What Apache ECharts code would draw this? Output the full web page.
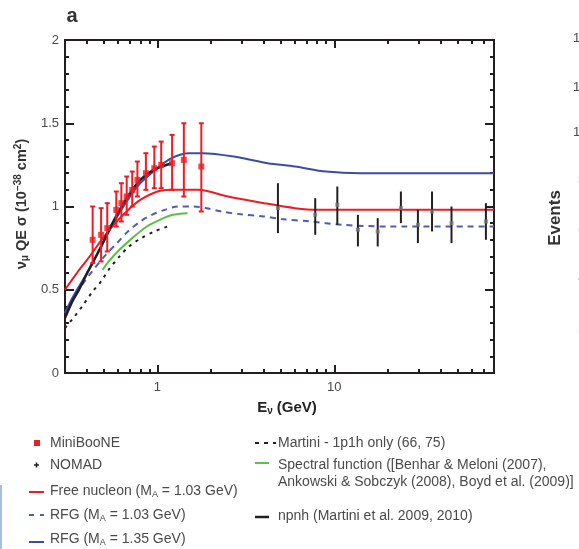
<!DOCTYPE html>
<html><head><meta charset="utf-8">
<script src="https://cdn.jsdelivr.net/npm/echarts@6/dist/echarts.min.js"></script>
<style>html,body{margin:0;padding:0;background:#fff}#c{width:579px;height:549px}</style>
</head><body><div id="c"></div>
<script>
// ---------- data ----------
const xMajorTicks = [1, 10];
const xMinorTicks = [0.4,0.5,0.6,0.7,0.8,0.9,2,3,4,5,6,7,8,9,20,30,40,50,60,70];
const yTickValues = [0, 0.5, 1, 1.5, 2];

// Free nucleon (MA = 1.03 GeV)
const freeE = [0.3,0.35,0.4,0.5,0.6,0.7,0.8,1.0,1.2,1.7,2.5,4,6,8,80];
const freeS = [0.5,0.6,0.68,0.82,0.92,0.99,1.04,1.09,1.1,1.1,1.06,1.02,0.99,0.98,0.98];
// RFG (MA = 1.35 GeV)
const rfg135E = [0.3,0.33,0.36,0.4,0.47,0.55,0.67,0.8,1.0,1.2,1.5,1.8,2.7,4.2,6,9,14,80];
const rfg135S = [0.36,0.45,0.52,0.6,0.74,0.88,1.03,1.14,1.23,1.29,1.32,1.32,1.3,1.26,1.24,1.21,1.2,1.2];
// RFG (MA = 1.03 GeV)
const rfg103E = [0.3,0.34,0.37,0.42,0.51,0.59,0.68,0.8,0.93,1.1,1.3,1.6,1.9,2.3,2.9,4,5,7.3,11,20,80];
const rfg103S = [0.36,0.46,0.52,0.6,0.71,0.78,0.85,0.91,0.95,0.98,1.0,1.0,0.99,0.97,0.955,0.94,0.925,0.91,0.89,0.88,0.88];
// Spectral function
const sfE = [0.49,0.53,0.61,0.72,0.87,1.03,1.22,1.48];
const sfS = [0.62,0.67,0.74,0.81,0.88,0.92,0.95,0.96];
// Martini 1p1h only
const m1E = [0.3,0.34,0.375,0.43,0.48,0.53,0.61,0.69,0.81,0.96,1.14];
const m1S = [0.27,0.34,0.40,0.49,0.55,0.62,0.70,0.76,0.81,0.85,0.88];
// npnh (Martini)
const npE = [0.3,0.33,0.36,0.4,0.47,0.55,0.67,0.8,0.95,1.2];
const npS = [0.33,0.43,0.5,0.6,0.74,0.89,1.05,1.16,1.22,1.26];

// MiniBooNE
const mbE  = [0.43,0.48,0.52,0.585,0.625,0.67,0.72,0.77,0.86,0.96,1.05,1.21,1.41,1.77];
const mbS  = [0.80,0.83,0.87,0.98,1.02,1.06,1.10,1.16,1.20,1.23,1.25,1.26,1.28,1.24];
const mbHi = [1.00,0.99,1.02,1.09,1.14,1.18,1.21,1.27,1.32,1.36,1.39,1.43,1.50,1.50];
const mbLo = [0.66,0.67,0.73,0.88,0.91,0.95,1.00,1.06,1.10,1.11,1.11,1.10,1.06,0.97];
// NOMAD
const nmE  = [4.8,7.8,10.4,13.6,17.6,23.8,29.7,35.7,46,72];
const nmS  = [0.99,0.95,1.01,0.86,0.85,0.99,0.89,0.97,0.90,0.91];
const nmHi = [1.14,1.05,1.12,0.95,0.93,1.09,0.98,1.09,1.00,1.02];
const nmLo = [0.84,0.83,0.89,0.76,0.76,0.90,0.78,0.85,0.78,0.80];

// neighbouring panel tick labels (partly cut off)
const nbLabels = ['14', '12', '10', '8', '6', '4', '2'];

// ---------- styling ----------
const RED = '#ed1c24', BLUE = '#3b4da3', BLUE_D = '#4b5fb4', GREEN = '#5cbf48', BLACK = '#231f20';
const TXT = '#4a4a4a';
const FONT = '"Liberation Sans", Arial, sans-serif';
const gridRect = {left: 65, top: 40, width: 429, height: 333};

function xAxis(gridIndex, pos, major, label) {
  return {
    type: 'log', logBase: 10, min: 0.3, max: 80, gridIndex, position: pos,
    axisLine: {show: true, onZero: false, lineStyle: {color: BLACK, width: 2}},
    axisTick: {show: true, inside: true, length: major ? 8 : 4,
      customValues: major ? xMajorTicks : xMinorTicks, lineStyle: {color: BLACK, width: 2}},
    axisLabel: {show: label, customValues: xMajorTicks, margin: 8,
      formatter: v => String(Math.round(v)), fontSize: 13, color: TXT, fontFamily: FONT},
    splitLine: {show: false}, minorTick: {show: false}
  };
}
function yAxis(gridIndex, pos, label, show) {
  return {
    type: 'value', min: 0, max: 2, interval: 0.5, gridIndex, position: pos, show,
    axisLine: {show: true, onZero: false, lineStyle: {color: BLACK, width: 2}},
    axisTick: {show: true, inside: true, length: 9, lineStyle: {color: BLACK, width: 2}},
    minorTick: {show: true, splitNumber: 5, length: 4, lineStyle: {color: BLACK, width: 2}},
    axisLabel: {show: label, margin: 6, fontSize: 13, color: TXT, fontFamily: FONT,
      customValues: yTickValues, formatter: v => String(v)},
    splitLine: {show: false}, minorSplitLine: {show: false}
  };
}
function pairs(E, S) { return E.map((e, i) => [e, S[i]]); }
function curve(name, E, S, color, width, type, z) {
  return {type: 'line', name, data: pairs(E, S), showSymbol: false, smooth: 0.3,
    lineStyle: {color, width, type}, z, silent: true, xAxisIndex: 0, yAxisIndex: 0};
}
function errBars(E, S, Lo, Hi, color, cap, z) {
  return {
    type: 'custom', xAxisIndex: 0, yAxisIndex: 0, z, silent: true,
    data: E.map((e, i) => [e, S[i], Lo[i], Hi[i]]),
    encode: {x: 0, y: [2, 3]},
    renderItem: (params, api) => {
      const x = api.value(0);
      const t = api.coord([x, api.value(3)]);
      const b = api.coord([x, api.value(2)]);
      const st = {stroke: color, lineWidth: 2};
      const ch = [{type: 'line', shape: {x1: t[0], y1: t[1], x2: b[0], y2: b[1]}, style: st}];
      if (cap > 0) {
        ch.push({type: 'line', shape: {x1: t[0] - cap, y1: t[1], x2: t[0] + cap, y2: t[1]}, style: st});
        ch.push({type: 'line', shape: {x1: b[0] - cap, y1: b[1], x2: b[0] + cap, y2: b[1]}, style: st});
      }
      return {type: 'group', children: ch};
    }
  };
}

const chart = echarts.init(document.getElementById('c'), null, {renderer: 'canvas'});

// legend graphics
const sub = {fontSize: 9, fontFamily: FONT, fill: TXT, padding: [7, 0, 0, 0]};
function ltext(x, y, text) {
  return {type: 'text', x, y, style: {text, fill: TXT, font: '14px ' + FONT, verticalAlign: 'middle',
    rich: {s: sub}}, z: 100};
}
function lline(x1, x2, y, color, dash, w) {
  return {type: 'line', shape: {x1, y1: y, x2, y2: y}, style: {stroke: color, lineWidth: w || 2, lineDash: dash || null}, z: 100};
}

const nbY = [38, 87, 132, 180, 230, 278, 328];
const graphics = [
  {type: 'text', x: 72, y: 16, style: {text: 'a', font: 'bold 20px ' + FONT, fill: '#333', align: 'center', verticalAlign: 'middle'}},
  {type: 'text', x: 22, y: 204, rotation: Math.PI / 2,
    style: {text: 'ν{s|μ} QE σ (10{p|−38} cm{p|2})', font: 'bold 14.5px ' + FONT, fill: '#333', align: 'center', verticalAlign: 'middle',
      rich: {s: {fontSize: 10, fontWeight: 'bold', fontFamily: FONT, fill: '#333', padding: [6, 0, 0, 0]},
             p: {fontSize: 10, fontWeight: 'bold', fontFamily: FONT, fill: '#333', padding: [0, 0, 7, 0]}}}},
  {type: 'text', x: 287, y: 408,
    style: {text: 'E{s|ν} (GeV)', font: 'bold 15px ' + FONT, fill: '#222', align: 'center', verticalAlign: 'middle',
      rich: {s: {fontSize: 10, fontWeight: 'bold', fontFamily: FONT, fill: '#222', padding: [7, 0, 0, 0]}}}},
  // partial neighbouring panel
  {type: 'text', x: 555, y: 218, rotation: Math.PI / 2,
    style: {text: 'Events', font: 'bold 17px ' + FONT, fill: '#333', align: 'center', verticalAlign: 'middle'}},
  // left edge decoration
  {type: 'line', shape: {x1: 1, y1: 485, x2: 1, y2: 549}, style: {stroke: '#a9bde0', lineWidth: 2}},
  // legend left column
  {type: 'rect', shape: {x: 34, y: 440, width: 6, height: 6}, style: {fill: RED}, z: 100},
  ltext(50, 443, 'MiniBooNE'),
  {type: 'line', shape: {x1: 34, y1: 465, x2: 39, y2: 465}, style: {stroke: BLACK, lineWidth: 1.5}, z: 100},
  {type: 'line', shape: {x1: 36.5, y1: 462.5, x2: 36.5, y2: 467.5}, style: {stroke: BLACK, lineWidth: 1.5}, z: 100},
  ltext(50, 465, 'NOMAD'),
  lline(29, 44, 492, RED),
  ltext(50, 491, 'Free nucleon (M{s|A} = 1.03 GeV)'),
  lline(29, 44, 515, BLUE_D, [5, 6]),
  ltext(50, 515, 'RFG (M{s|A} = 1.03 GeV)'),
  lline(29, 44, 542, BLUE),
  ltext(50, 539, 'RFG (M{s|A} = 1.35 GeV)'),
  // legend right column
  lline(255, 276, 443, BLACK, [4, 5]),
  ltext(278, 443, 'Martini - 1p1h only (66, 75)'),
  lline(255, 269, 463, GREEN),
  ltext(278, 465, 'Spectral function ([Benhar & Meloni (2007),'),
  ltext(278, 482, 'Ankowski & Sobczyk (2008), Boyd et al. (2009)]'),
  lline(255, 269, 517, BLACK, null, 2.5),
  ltext(278, 516, 'npnh (Martini et al. 2009, 2010)')
];
nbLabels.forEach((t, i) => {
  graphics.push({type: 'text', x: t.length > 1 ? 573 : 578, y: nbY[i],
    style: {text: t, font: '13px ' + FONT, fill: i < 3 ? TXT : '#aaa', verticalAlign: 'middle'}});
});

chart.setOption({
  animation: false,
  backgroundColor: '#fff',
  grid: [Object.assign({}, gridRect), Object.assign({}, gridRect)],
  xAxis: [xAxis(0, 'bottom', true, true), xAxis(0, 'top', true, false),
          xAxis(1, 'bottom', false, false), xAxis(1, 'top', false, false)],
  yAxis: [yAxis(0, 'left', true, true), yAxis(0, 'right', false, true),
          yAxis(1, 'left', false, false), yAxis(1, 'right', false, false)],
  series: [
    curve('RFG (MA = 1.03 GeV)', rfg103E, rfg103S, BLUE_D, 2, [6, 5], 2),
    curve('Martini - 1p1h only', m1E, m1S, BLACK, 2, [3, 5], 2),
    curve('Spectral function', sfE, sfS, GREEN, 2, 'solid', 3),
    curve('RFG (MA = 1.35 GeV)', rfg135E, rfg135S, BLUE, 2, 'solid', 3),
    curve('Free nucleon (MA = 1.03 GeV)', freeE, freeS, RED, 2, 'solid', 4),
    curve('npnh', npE, npS, BLACK, 2.5, 'solid', 5),
    errBars(mbE, mbS, mbLo, mbHi, RED, 2.5, 6),
    {type: 'scatter', name: 'MiniBooNE', data: pairs(mbE, mbS), symbol: 'rect', symbolSize: 6,
      itemStyle: {color: RED}, z: 7, silent: true},
    errBars(nmE, nmS, nmLo, nmHi, BLACK, 0, 6),
    {type: 'scatter', name: 'NOMAD', data: pairs(nmE, nmS), symbol: 'rect', symbolSize: 4,
      itemStyle: {color: '#777'}, z: 7, silent: true}
  ],
  graphic: graphics
});
</script></body></html>
